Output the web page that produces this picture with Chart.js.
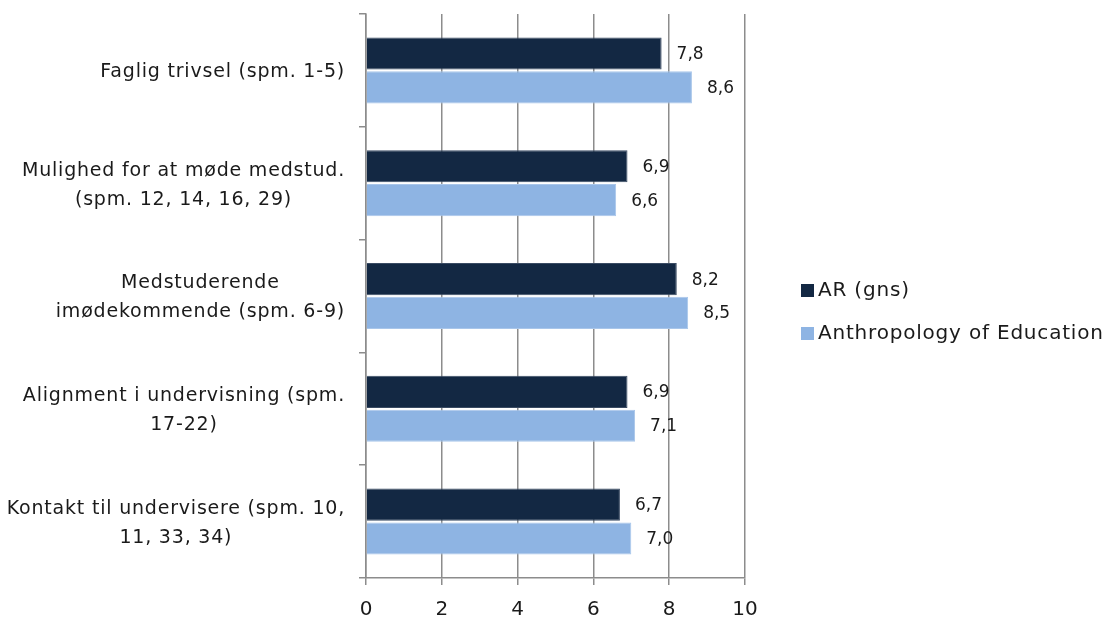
<!DOCTYPE html>
<html>
<head>
<meta charset="utf-8">
<script src="https://cdn.jsdelivr.net/npm/chart.js@4/dist/chart.umd.min.js"></script>
<style>
  html, body { margin: 0; padding: 0; background: #fff; }
  #wrap { width: 1106px; height: 618px; position: relative; }
</style>
</head>
<body>
<div id="wrap"><canvas id="c" width="1106" height="618"></canvas></div>
<script>
const categories = [
  ["Faglig trivsel (spm. 1-5)"],
  ["Mulighed for at møde medstud.", "(spm. 12, 14, 16, 29)"],
  ["Medstuderende", "imødekommende (spm. 6-9)"],
  ["Alignment i undervisning (spm.", "17-22)"],
  ["Kontakt til undervisere (spm. 10,", "11, 33, 34)"]
];
const seriesNames = ["AR (gns)", "Anthropology of Education"];
const arValues = [7.8, 6.9, 8.2, 6.9, 6.7];
const aeValues = [8.6, 6.6, 8.5, 7.1, 7.0];
const xTicks = [0, 2, 4, 6, 8, 10];

const FONT = "DejaVu Sans";
const colors = ["#132843", "#8EB4E3"];
const TEXT = '#1a1a1a';

const labelPlugin = {
  id: 'customText',
  afterDatasetsDraw(chart) {
    const ctx = chart.ctx;
    ctx.save();
    ctx.fillStyle = TEXT;
    ctx.font = `17px "${FONT}"`;
    ctx.textBaseline = 'middle';
    ctx.textAlign = 'left';
    chart.data.datasets.forEach((ds, di) => {
      const meta = chart.getDatasetMeta(di);
      meta.data.forEach((bar, i) => {
        const v = ds.data[i];
        ctx.fillText(v.toFixed(1).replace('.', ','), bar.x + 15, bar.y + 1);
      });
    });
    // category labels
    const ys = chart.scales.y;
    ctx.font = `19px "${FONT}"`;
    ctx.letterSpacing = '0.8px';
    ctx.textAlign = 'center';
    const rightEdge = ys.right - 21;
    categories.forEach((lines, i) => {
      const cy = ys.getPixelForTick(i) + 2;
      const widest = Math.max(...lines.map(l => ctx.measureText(l).width));
      const cx = rightEdge - widest / 2;
      const lh = 29;
      const y0 = cy - (lines.length - 1) * lh / 2;
      lines.forEach((l, k) => ctx.fillText(l, cx, y0 + k * lh));
    });
    // legend
    const leg = [{t: seriesNames[0], y: 291}, {t: seriesNames[1], y: 334}];
    ctx.font = `20px "${FONT}"`;
    ctx.letterSpacing = '0.8px';
    ctx.textAlign = 'left';
    leg.forEach((it, i) => {
      ctx.fillStyle = colors[i];
      ctx.fillRect(801, it.y - 7, 13, 13);
      ctx.fillStyle = TEXT;
      ctx.fillText(it.t, 818, it.y);
    });
    ctx.restore();
  }
};

new Chart(document.getElementById('c'), {
  type: 'bar',
  data: {
    labels: categories.map(c => c.join(' ')),
    datasets: [
      { label: seriesNames[0], data: arValues, backgroundColor: colors[0], borderColor: '#3a4b63', borderWidth: 1, categoryPercentage: 0.6, barPercentage: 0.95 },
      { label: seriesNames[1], data: aeValues, backgroundColor: colors[1], borderColor: '#a9c6ea', borderWidth: 1, categoryPercentage: 0.6, barPercentage: 0.95 }
    ]
  },
  options: {
    indexAxis: 'y',
    responsive: false,
    animation: false,
    layout: { padding: { top: 14, right: 361, left: 0, bottom: 0 } },
    plugins: { legend: { display: false }, tooltip: { enabled: false } },
    scales: {
      x: {
        min: 0, max: 10,
        afterBuildTicks: (s) => { s.ticks = xTicks.map(v => ({ value: v })); },
        grid: { color: '#8c8c8c', lineWidth: 1.5, tickLength: 7, drawTicks: true },
        border: { color: '#8c8c8c', width: 1.5 },
        ticks: { color: TEXT, font: { family: FONT, size: 20 }, padding: 13 },
        afterFit: (s) => { s.height = 40; }
      },
      y: {
        grid: { drawOnChartArea: false, color: '#8c8c8c', lineWidth: 1.5, tickLength: 7, offset: true },
        border: { color: '#8c8c8c', width: 1.5 },
        ticks: { display: true, callback: () => '' , font: { size: 1 } },
        afterFit: (s) => { s.width = 366; }
      }
    }
  },
  plugins: [labelPlugin]
});
</script>
</body>
</html>
